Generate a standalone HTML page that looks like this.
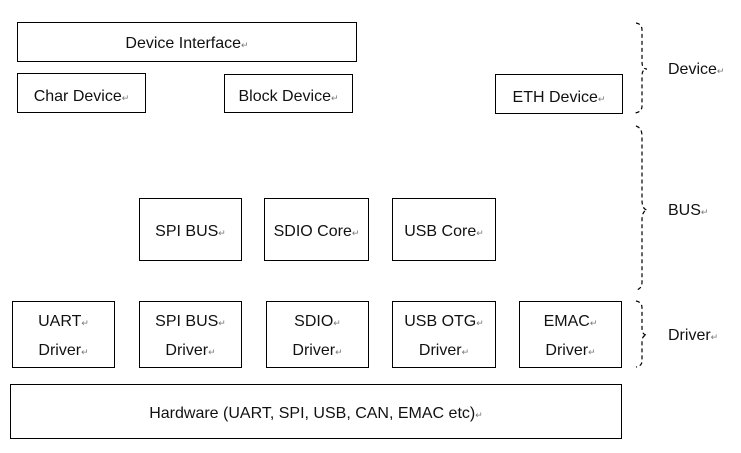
<!DOCTYPE html>
<html><head><style>
body{margin:0;width:741px;height:453px;background:#fff;position:relative;overflow:hidden;font-family:"Liberation Sans",sans-serif;font-size:16px;color:#111}
.b{position:absolute;border:1px solid #000;box-sizing:border-box;display:flex;align-items:center;justify-content:center;text-align:center;line-height:27px}
.b>div{white-space:nowrap;margin-top:5px}
.r{font-size:9px;color:#777}
.l{position:absolute;font-size:16px}
</style></head><body>
<div class="b" style="left:17px;top:22px;width:340px;height:40px"><div>Device Interface<span class="r">↵</span></div></div>
<div class="b" style="left:17px;top:73px;width:129px;height:40px"><div style="margin-top:8px">Char Device<span class="r">↵</span></div></div>
<div class="b" style="left:224px;top:74px;width:129px;height:39px"><div style="margin-top:8px">Block Device<span class="r">↵</span></div></div>
<div class="b" style="left:495px;top:74px;width:128px;height:40px"><div style="margin-top:8px">ETH Device<span class="r">↵</span></div></div>
<div class="b" style="left:139px;top:198px;width:103px;height:63px"><div>SPI BUS<span class="r">↵</span></div></div>
<div class="b" style="left:264px;top:198px;width:105px;height:63px"><div>SDIO Core<span class="r">↵</span></div></div>
<div class="b" style="left:392px;top:198px;width:104px;height:63px"><div>USB Core<span class="r">↵</span></div></div>
<div class="b" style="left:12px;top:301px;width:103px;height:67px"><div>UART<span class="r">↵</span><br>Driver<span class="r">↵</span></div></div>
<div class="b" style="left:139px;top:301px;width:103px;height:67px"><div>SPI BUS<span class="r">↵</span><br>Driver<span class="r">↵</span></div></div>
<div class="b" style="left:266px;top:301px;width:103px;height:67px"><div>SDIO<span class="r">↵</span><br>Driver<span class="r">↵</span></div></div>
<div class="b" style="left:392px;top:301px;width:104px;height:67px"><div>USB OTG<span class="r">↵</span><br>Driver<span class="r">↵</span></div></div>
<div class="b" style="left:519px;top:301px;width:103px;height:67px"><div>EMAC<span class="r">↵</span><br>Driver<span class="r">↵</span></div></div>
<div class="b" style="left:10px;top:384px;width:612px;height:55px"><div>Hardware (UART, SPI, USB, CAN, EMAC etc)<span class="r">↵</span></div></div>
<svg style="position:absolute;left:0;top:0" width="741" height="453">
<g fill="none" stroke="#000" stroke-width="1.2" stroke-dasharray="4,3">
<path d="M636 23 Q642 24 642 30 L642 62 Q642 69 647 69 Q642 69 642 76 L642 106 Q642 112 635 113"/>
<path d="M636 126 Q642 128 642 136 L642 200 Q642 209 647 210 Q642 211 642 220 L642 282 Q642 289 636 290"/>
<path d="M636 301 Q642 302 642 308 L642 328 Q642 335 647 335 Q642 335 642 342 L642 361 Q642 366 636 367"/>
</g></svg>
<div class="l" style="left:668px;top:61px">Device<span class="r">↵</span></div>
<div class="l" style="left:668px;top:202px">BUS<span class="r">↵</span></div>
<div class="l" style="left:668px;top:327px">Driver<span class="r">↵</span></div>
</body></html>
